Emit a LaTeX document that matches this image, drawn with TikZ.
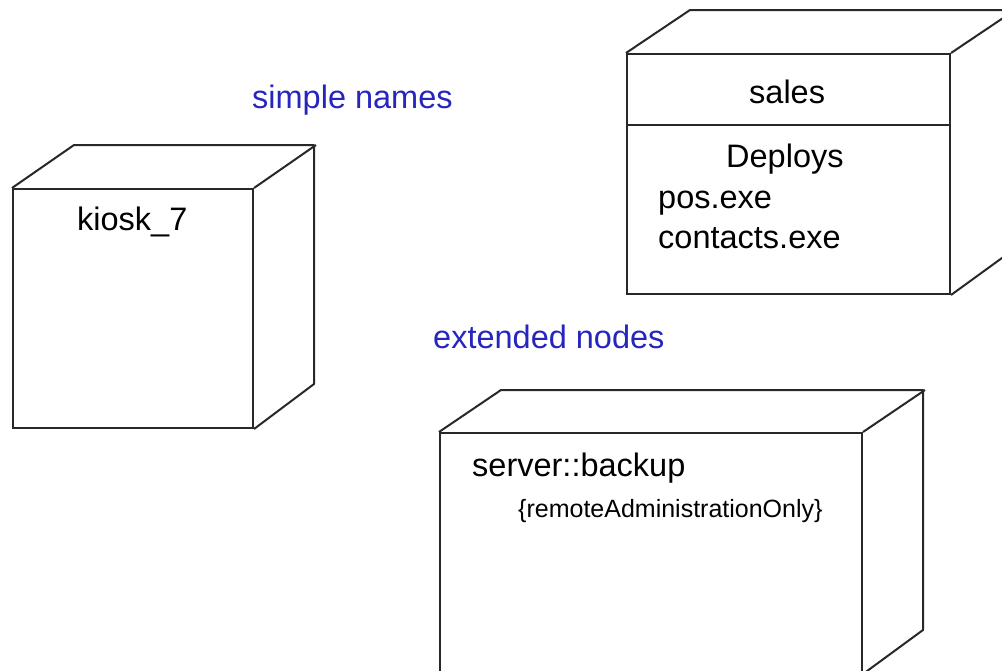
\documentclass[tikz,border=0pt]{standalone}
\usepackage{fontspec}
\setmainfont{Liberation Sans}
\usetikzlibrary{positioning}
\definecolor{noteblue}{RGB}{38,38,190}
\definecolor{linegray}{RGB}{40,40,40}
\tikzset{
  face/.style={draw=linegray, line width=2pt, fill=white, inner sep=0pt, anchor=north west},
  edge/.style={draw=linegray, line width=2pt, line join=round},
  label/.style={inner sep=0pt, anchor=base west, font=\fontsize{32.5}{38}\selectfont},
  note/.style={label, text=noteblue},
  small/.style={label, font=\fontsize{25}{30}\selectfont}
}
\begin{document}
\begin{tikzpicture}[x=1pt,y=-1pt]
    \useasboundingbox (0,0) rectangle (1002,670);
    \clip (0,0) rectangle (1002,670);

    % Notes
    \node[note] (simplenames) at (252,108) {simple names};
    \node[note] (extendednodes) at (433,348) {extended nodes};

    % Node: kiosk_7
    \node[face, minimum width=240pt, minimum height=239pt] (kiosk) at (12,188) {};
    \draw[edge] (kiosk.north west) -- ++(62,-43) -- ++(240,0) -- ++(0,239) -- (kiosk.south east);
    \draw[edge] (kiosk.north east) -- ++(62,-43);
    \node[label] (kioskname) at (77,230) {kiosk\_7};

    % Node: sales
    \node[face, minimum width=323pt, minimum height=240pt] (sales) at (626,53) {};
    \draw[edge] (sales.north west) -- ++(64,-43) -- ++(323,0) -- ++(0,240) -- (sales.south east);
    \draw[edge] (sales.north east) -- ++(64,-43);
    \coordinate (salessplit) at (626,125);
    \draw[edge] (salessplit) -- (salessplit -| sales.east);
    \node[label] (salesname) at (749,103) {sales};
    \node[label] (deploys) at (726,167) {Deploys};
    \node[label] (posexe) at (658,208) {pos.exe};
    \node[label] (contactsexe) at (658,248) {contacts.exe};

    % Node: server::backup
    \node[face, minimum width=422pt, minimum height=240pt] (server) at (439,432) {};
    \draw[edge] (server.north west) -- ++(62,-42) -- ++(422,0) -- ++(0,240) -- (server.south east);
    \draw[edge] (server.north east) -- ++(62,-42);
    \node[label] (servername) at (472,476) {server::backup};
    \node[small] (servertag) at (518,517) {\{remoteAdministrationOnly\}};
\end{tikzpicture}
\end{document}
